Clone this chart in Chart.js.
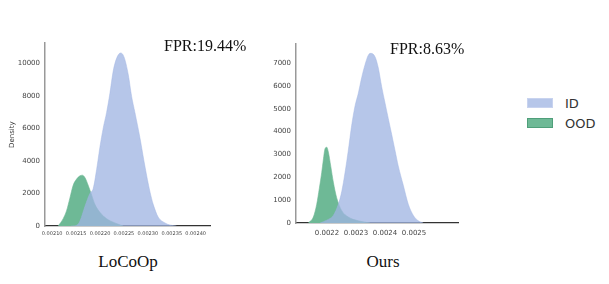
<!DOCTYPE html>
<html>
<head>
<meta charset="utf-8">
<script src="https://cdn.jsdelivr.net/npm/chart.js@4.4.1/dist/chart.umd.min.js"></script>
<style>
  body { margin:0; background:#fff; width:609px; height:284px; position:relative; overflow:hidden; }
  canvas { position:absolute; }
  .title { position:absolute; font-family:"Liberation Serif", serif; color:#111; font-size:17px; transform:translateX(-50%); white-space:nowrap; }
  .fpr { position:absolute; font-family:"Liberation Serif", serif; color:#111; font-size:16px; white-space:nowrap; }
  .sw { position:absolute; width:26px; height:10px; }
  .lab { position:absolute; font-family:"DejaVu Sans", sans-serif; font-size:13px; color:#333; }
</style>
</head>
<body>
<canvas id="left"></canvas>
<canvas id="right"></canvas>
<div class="fpr" style="left:164px;top:37px">FPR:19.44%</div>
<div class="fpr" style="left:390px;top:40px">FPR:8.63%</div>
<div class="title" style="left:128px;top:252px">LoCoOp</div>
<div class="title" style="left:383px;top:252px">Ours</div>
<div class="sw" style="left:527px;top:98px;background:#b6c6e9;border:1px solid #c8d3ef;box-sizing:border-box"></div>
<div class="lab" style="left:565px;top:96px">ID</div>
<div class="sw" style="left:527px;top:118px;background:#6eb996;border:1px solid #4f9f7a;box-sizing:border-box"></div>
<div class="lab" style="left:565px;top:116px">OOD</div>
<script>
// LoCoOp panel
const leftIdX = [0.002140, 0.0021517, 0.002158, 0.0021684, 0.0021789, 0.0021858, 0.0021929, 0.0021998, 0.0022067, 0.0022138, 0.0022207, 0.0022276, 0.0022347, 0.0022431, 0.00225, 0.002259, 0.0022661, 0.002273, 0.0022835, 0.0022939, 0.0023044, 0.0023113, 0.0023218, 0.0023358, 0.0023462, 0.00236];
const leftIdY = [0, 50, 300, 1200, 2000, 2300, 3470, 4840, 6010, 6980, 8150, 9520, 10300, 10630, 10400, 9320, 7960, 6980, 5420, 3670, 2110, 1330, 540, 190, 60, 0];
const leftOodX = [0.0021126, 0.002123, 0.0021301, 0.002137, 0.0021439, 0.002151, 0.002158, 0.0021628, 0.0021684, 0.0021753, 0.0021824, 0.0021893, 0.0021998, 0.0022138, 0.0022312, 0.0022485];
const leftOodY = [0, 450, 940, 1710, 2500, 2880, 3080, 3120, 2980, 2500, 1910, 1330, 840, 450, 190, 0];
const leftXTicks = [0.00210, 0.00215, 0.00220, 0.00225, 0.00230, 0.00235, 0.00240];
const leftYTicks = [0, 2000, 4000, 6000, 8000, 10000];

// Ours panel
const rightIdX = [0.002176, 0.002199, 0.0022217, 0.002239, 0.0022507, 0.0022621, 0.0022734, 0.0022852, 0.0022966, 0.0023079, 0.0023196, 0.002331, 0.0023424, 0.0023517, 0.0023655, 0.0023769, 0.0023886, 0.0024, 0.0024114, 0.0024231, 0.0024345, 0.0024458, 0.0024631, 0.0024803, 0.0024976, 0.0025148, 0.002532];
const rightIdY = [0, 125, 333, 820, 1375, 2210, 3180, 4290, 5125, 5680, 6375, 6930, 7350, 7430, 7280, 6790, 5960, 5260, 4570, 3875, 3180, 2490, 1650, 820, 333, 96, 0];
const rightOodX = [0.0021355, 0.0021528, 0.0021645, 0.0021734, 0.0021817, 0.0021872, 0.0021931, 0.002199, 0.0022045, 0.0022128, 0.0022217, 0.0022334, 0.0022507, 0.0022734, 0.0023079, 0.0023483];
const rightOodY = [0, 260, 820, 1510, 2210, 2760, 3250, 3320, 3110, 2490, 1790, 1100, 540, 260, 96, 0];
const rightXTicks = [0.0022, 0.0023, 0.0024, 0.0025];
const rightYTicks = [0, 1000, 2000, 3000, 4000, 5000, 6000, 7000];

const idColor = "rgba(159,180,226,0.76)";
const oodColor = "rgb(110,185,150)";

function pts(xs, ys){ return xs.map((x,i)=>({x, y: ys[i]})); }

function makePanel(id, box, cfg){
  const cv = document.getElementById(id);
  cv.style.left = box.left + "px";
  cv.style.top = box.top + "px";
  cv.style.width = box.w + "px";
  cv.style.height = box.h + "px";
  cv.width = box.w; cv.height = box.h;
  const ds = (label, data, color, order) => ({
    label, data, order,
    backgroundColor: color, borderColor: color, borderWidth: 0.6,
    fill: "origin", pointRadius: 0, tension: 0.4, cubicInterpolationMode: "monotone"
  });
  return new Chart(cv, {
    type: "line",
    data: { datasets: [
      ds("ID", pts(cfg.idX, cfg.idY), idColor, 0),
      ds("OOD", pts(cfg.oodX, cfg.oodY), oodColor, 1)
    ]},
    options: {
      responsive: false, animation: false, events: [],
      layout: { padding: { top: 0, right: box.padR, left: 0, bottom: 0 } },
      plugins: { legend: { display: false }, tooltip: { enabled: false } },
      scales: {
        x: {
          type: "linear", min: cfg.xMin, max: cfg.xMax,
          afterBuildTicks: s => { s.ticks = cfg.xTicks.map(v=>({value:v})); },
          afterFit: s => { s.height = box.xh; },
          grid: { display: false, drawTicks: false },
          border: { display: true, color: "#333", width: 1.3 },
          ticks: { color: "#444", font: { family: "DejaVu Sans", size: cfg.xFont }, padding: cfg.xPad, maxRotation: 0, autoSkip: false,
                   callback: v => v.toFixed(cfg.dec) }
        },
        y: {
          min: 0, max: cfg.yMax,
          afterBuildTicks: s => { s.ticks = cfg.yTicks.map(v=>({value:v})); },
          afterFit: s => { s.width = box.yw; },
          grid: { display: false, drawTicks: false },
          border: { display: true, color: "#999", width: 1.5 },
          title: { display: !!cfg.yTitle, text: cfg.yTitle || "", color: "#333", font: { family: "DejaVu Sans", size: 7 }, padding: { top: 8, bottom: 0 } },
          ticks: { color: "#444", font: { family: "DejaVu Sans", size: 7 }, padding: 5, callback: v => String(v) }
        }
      }
    }
  });
}

makePanel("left", { left: 0, top: 34, w: 222, h: 212, yw: 45, xh: 20, padR: 12 }, {
  idX: leftIdX, idY: leftIdY, oodX: leftOodX, oodY: leftOodY,
  xMin: 0.002085, xMax: 0.00243, yMax: 11230,
  xTicks: leftXTicks, yTicks: leftYTicks, dec: 5, xFont: 5, xPad: 5, yTitle: "Density"
});

makePanel("right", { left: 250, top: 35, w: 220, h: 208, yw: 46, xh: 20, padR: 12 }, {
  idX: rightIdX, idY: rightIdY, oodX: rightOodX, oodY: rightOodY,
  xMin: 0.002093, xMax: 0.0026517, yMax: 7830,
  xTicks: rightXTicks, yTicks: rightYTicks, dec: 4, xFont: 7, xPad: 6
});
</script>
</body>
</html>
